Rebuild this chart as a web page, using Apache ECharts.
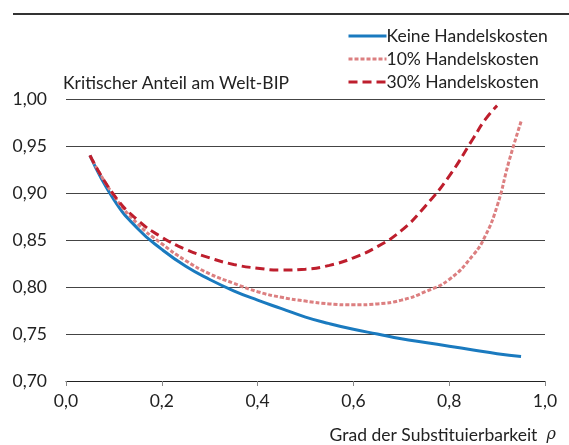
<!DOCTYPE html>
<html><head><meta charset="utf-8">
<script src="https://cdn.jsdelivr.net/npm/echarts@6/dist/echarts.min.js"></script>
<style>html,body{margin:0;padding:0;background:#fff}#c{width:569px;height:445px}</style>
</head><body><div id="c"></div>
<script>
var seriesNames = ['Keine Handelskosten', '10% Handelskosten', '30% Handelskosten'];
var rhoKeine = [0.05,0.10,0.15,0.20,0.25,0.30,0.35,0.40,0.45,0.50,0.55,0.60,0.65,0.70,0.75,0.80,0.85,0.90,0.95];
var valKeine = [0.940,0.893,0.862,0.840,0.822,0.808,0.796,0.786,0.777,0.768,0.761,0.755,0.750,0.745,0.741,0.737,0.733,0.729,0.726];
var rho10 = [0.05,0.10,0.15,0.20,0.25,0.30,0.35,0.40,0.45,0.50,0.55,0.60,0.65,0.70,0.75,0.80,0.85,0.875,0.90,0.925,0.95];
var val10 = [0.940,0.897,0.867,0.846,0.828,0.814,0.804,0.795,0.789,0.785,0.782,0.781,0.782,0.786,0.795,0.808,0.834,0.854,0.886,0.934,0.976];
var rho30 = [0.05,0.10,0.15,0.20,0.25,0.30,0.35,0.40,0.45,0.50,0.55,0.60,0.65,0.70,0.75,0.80,0.85,0.875,0.90];
var val30 = [0.940,0.898,0.871,0.853,0.840,0.831,0.824,0.820,0.818,0.819,0.823,0.831,0.843,0.860,0.886,0.918,0.958,0.978,0.993];
var xTicks = ['0,0','0,2','0,4','0,6','0,8','1,0'];
var yAxisTitle = 'Kritischer Anteil am Welt-BIP';
var xAxisTitle = 'Grad der Substituierbarkeit';

function pairs(xs, ys){ return xs.map(function(x,i){ return [x, ys[i]]; }); }
var FONT = 'Lato';
var FS = 17.5;
var chart = echarts.init(document.getElementById('c'), null, {renderer:'canvas'});
chart.setOption({
  animation:false,
  textStyle:{fontFamily:FONT},
  grid:{left:66, right:24, top:99, bottom:64},
  graphic:[{type:'line', shape:{x1:13,y1:14,x2:569,y2:14}, style:{stroke:'#333', lineWidth:2}}],
  legend:{
    orient:'vertical', left:342, top:22, itemWidth:38, itemHeight:14, itemGap:5,
    itemStyle:{opacity:0},
    lineStyle:{width:3},
    textStyle:{fontFamily:FONT, fontSize:FS, color:'#222', padding:[0,0,0,-5]},
    data:seriesNames
  },
  xAxis:{
    type:'value', min:0, max:1, interval:0.2,
    name:'{a|'+xAxisTitle+'}   {b|ρ}', nameLocation:'end', nameGap:11,
    nameTextStyle:{align:'right', verticalAlign:'top', padding:[45,0,0,0],
      rich:{a:{fontFamily:FONT,fontSize:FS,color:'#222'}, b:{fontFamily:'DejaVu Serif',fontStyle:'italic',fontSize:16,color:'#222'}}},
    axisLine:{show:true, onZero:false, lineStyle:{color:'#222', width:1}},
    axisTick:{show:true, length:5, lineStyle:{color:'#888', width:1}},
    splitLine:{show:false},
    axisLabel:{margin:11, fontFamily:FONT, fontSize:FS, color:'#222',
      formatter:function(v){ return xTicks[Math.round(v*5)]; }}
  },
  yAxis:{
    type:'value', min:0.7, max:1.0, interval:0.05,
    name:yAxisTitle, nameLocation:'end', nameGap:7,
    nameTextStyle:{align:'left', fontFamily:FONT, fontSize:FS, color:'#222', padding:[0,0,0,-3]},
    axisLine:{show:false}, axisTick:{show:false},
    splitLine:{show:true, lineStyle:{color:'#444', width:1}},
    axisLabel:{margin:19, fontFamily:FONT, fontSize:FS, color:'#222',
      formatter:function(v){ return v.toFixed(2).replace('.',','); }}
  },
  series:[
    {name:seriesNames[0], type:'line', data:pairs(rhoKeine,valKeine), smooth:true, symbol:'none',
     lineStyle:{color:'#1a7abf', width:3}, itemStyle:{color:'#1a7abf'}, z:3},
    {name:seriesNames[1], type:'line', data:pairs(rho10,val10), smooth:true, symbol:'none',
     lineStyle:{color:'#dc7f80', width:3, type:[4,2]}, itemStyle:{color:'#dc7f80'}, z:4},
    {name:seriesNames[2], type:'line', data:pairs(rho30,val30), smooth:true, symbol:'none',
     lineStyle:{color:'#be1e2d', width:3, type:[9,5]}, itemStyle:{color:'#be1e2d'}, z:5}
  ]
});
</script></body></html>
